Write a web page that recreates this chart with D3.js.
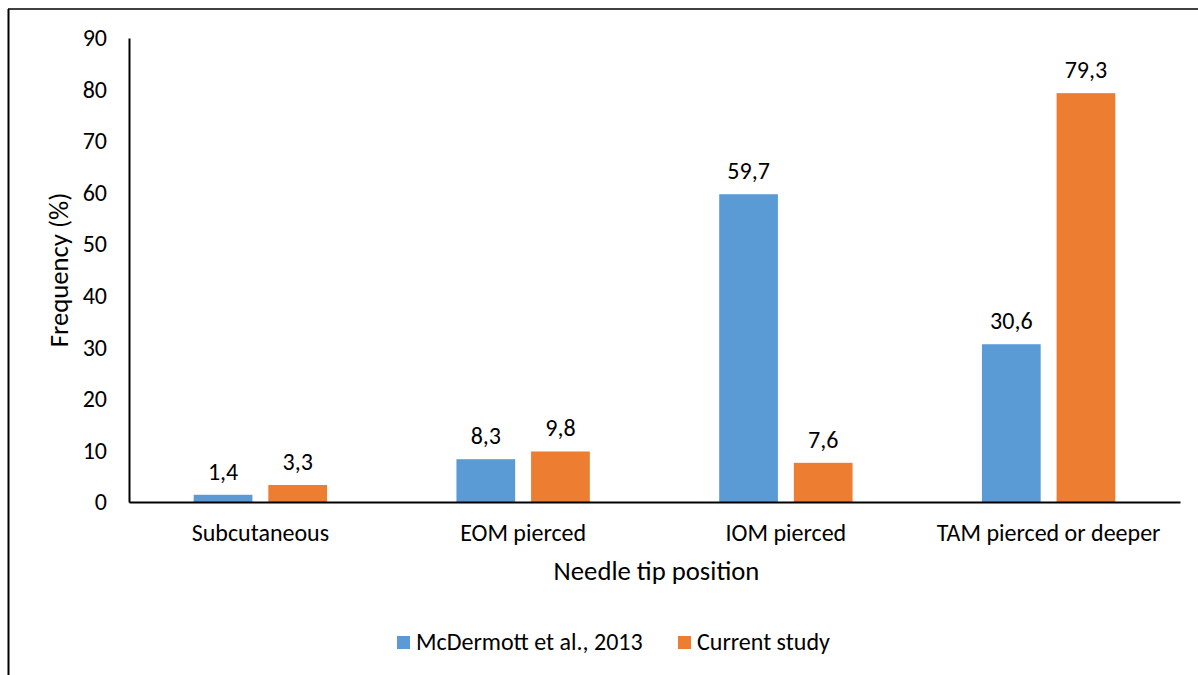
<!DOCTYPE html>
<html>
<head>
<meta charset="utf-8">
<script src="https://cdn.jsdelivr.net/npm/d3@7"></script>
<style>
  html, body { margin: 0; padding: 0; background: #fff; }
  svg { display: block; font-family: Carlito, "Open Sans", Lato, sans-serif; }
</style>
</head>
<body>
<svg id="chart" width="1198" height="675"></svg>
<script>
// Needle tip position frequencies (%)
const categories = ["Subcutaneous", "EOM pierced", "IOM pierced", "TAM pierced or deeper"];
const seriesNames = ["McDermott et al., 2013", "Current study"];
const mcdermott = [1.4, 8.3, 59.7, 30.6];
const currentStudy = [3.3, 9.8, 7.6, 79.3];
const yTicks = [0, 10, 20, 30, 40, 50, 60, 70, 80, 90];
const colors = ["#5B9BD5", "#ED7D31"];

const seriesValues = [mcdermott, currentStudy];
const rows = categories.map((c, i) => ({
  category: c,
  values: seriesValues.map((vals, s) => ({ series: seriesNames[s], value: vals[i], s }))
}));

const FONT = "Carlito, 'Open Sans', Lato, sans-serif";
const LABEL_SIZE = 24;
const TITLE_SIZE = 26.7;
const svg = d3.select("#chart");
const margin = { left: 129, right: 1180, top: 38, bottom: 502 };

// outer frame (top and left edges)
svg.append("line").attr("x1", 8).attr("x2", 1198).attr("y1", 9).attr("y2", 9)
  .attr("stroke", "#000").attr("stroke-width", 1.5);
svg.append("line").attr("x1", 8.5).attr("x2", 8.5).attr("y1", 9).attr("y2", 675)
  .attr("stroke", "#000").attr("stroke-width", 2);

const x = d3.scaleBand().domain(categories).range([margin.left, margin.right]);
const xInner = d3.scaleBand().domain(seriesNames).range([0, x.bandwidth()])
  .paddingInner(0.213).paddingOuter(0.867);
const y = d3.scaleLinear().domain([0, 90]).range([margin.bottom, margin.top]);

const fmt = v => d3.format(".1f")(v).replace(".", ",");

// bars
const groups = svg.append("g").selectAll("g").data(rows).join("g")
  .attr("transform", d => `translate(${x(d.category)},0)`);

groups.selectAll("rect").data(d => d.values).join("rect")
  .attr("x", d => xInner(d.series))
  .attr("width", xInner.bandwidth())
  .attr("y", d => y(d.value))
  .attr("height", d => y(0) - y(d.value))
  .attr("fill", d => colors[d.s]);

// value labels
groups.selectAll("text").data(d => d.values).join("text")
  .attr("x", d => xInner(d.series) + xInner.bandwidth() / 2)
  .attr("y", d => y(d.value) - 15)
  .attr("text-anchor", "middle")
  .attr("font-size", LABEL_SIZE)
  .attr("fill", "#000")
  .text(d => fmt(d.value));

// y axis
const yAxis = svg.append("g").attr("transform", `translate(${margin.left},0)`)
  .call(d3.axisLeft(y).tickValues(yTicks).tickSize(0).tickPadding(22).tickFormat(d3.format("d")));
yAxis.select(".domain").attr("stroke", "#000").attr("stroke-width", 2);
yAxis.selectAll("text").attr("font-size", LABEL_SIZE).attr("fill", "#000").attr("font-family", FONT);

// x axis
const xAxis = svg.append("g").attr("transform", `translate(0,${margin.bottom})`)
  .call(d3.axisBottom(x).tickSize(0).tickPadding(22));
xAxis.select(".domain").attr("stroke", "#000").attr("stroke-width", 2);
xAxis.selectAll("text").attr("font-size", LABEL_SIZE).attr("fill", "#000").attr("font-family", FONT);

// axis titles
svg.append("text").attr("x", (margin.left + margin.right) / 2 + 2).attr("y", 580)
  .attr("text-anchor", "middle").attr("font-size", TITLE_SIZE).attr("fill", "#000")
  .text("Needle tip position");
svg.append("text")
  .attr("transform", `translate(68,${(margin.top + margin.bottom) / 2}) rotate(-90)`)
  .attr("text-anchor", "middle").attr("font-size", TITLE_SIZE).attr("fill", "#000")
  .text("Frequency (%)");

// legend
const legendX = [397, 678];
const legend = svg.append("g").selectAll("g").data(seriesNames).join("g")
  .attr("transform", (d, i) => `translate(${legendX[i]},636)`);
legend.append("rect").attr("width", 13).attr("height", 13).attr("fill", (d, i) => colors[i]);
legend.append("text").attr("x", 19).attr("y", 14).attr("font-size", LABEL_SIZE).attr("fill", "#000")
  .text(d => d);
</script>
</body>
</html>
